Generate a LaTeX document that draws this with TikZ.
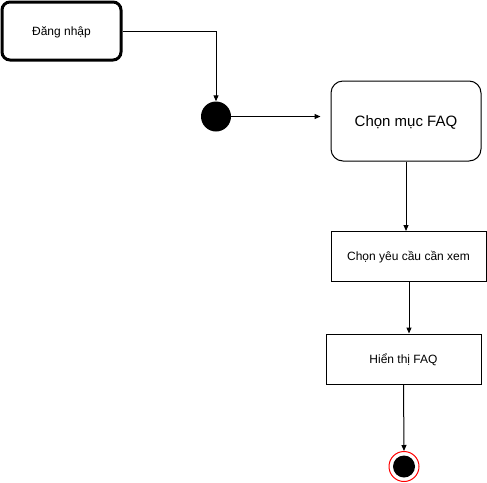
\documentclass[tikz,border=0pt]{standalone}
\usepackage{fontspec}
\setmainfont{Liberation Sans}
\usetikzlibrary{arrows.meta}
\begin{document}
\begin{tikzpicture}[x=1pt,y=-1pt,
  box/.style={draw=black,line width=1pt,fill=white,inner sep=0pt,font=\fontsize{12}{14}\selectfont,align=center,text height=8pt,text depth=0pt},
  arr/.style={-{Triangle[length=6pt,width=5pt]},line width=1pt},
  every node/.style={inner sep=0pt}]
\useasboundingbox (0,0) rectangle (487,482);
\node[box,rounded corners=8pt,line width=3pt,minimum width=119pt,minimum height=58pt] (login) at (61.5,31) {Đăng nhập};
\node[circle,fill=black,minimum size=30pt] (start) at (216,116.5) {};
\node[box,rounded corners=12pt,minimum width=150pt,minimum height=80pt,font=\fontsize{15}{18}\selectfont,text height=10pt] (faq) at (406,121) {Chọn mục FAQ};
\node[box,minimum width=155pt,minimum height=50pt] (req) at (408.5,256.5) {Chọn yêu cầu cần xem};
\node[box,minimum width=155pt,minimum height=50pt] (show) at (403.5,359) {Hiển thị FAQ};
\node[circle,draw=red,line width=1pt,fill=white,minimum size=30pt] (end) at (404,466.5) {};
\node[circle,fill=black,minimum size=22pt] (endin) at (end.center) {};
\coordinate (faqin) at (start.east -| faq.west);
\draw[arr] (login.east) -| (start.north);
\draw[arr,shorten >=10pt] (start.east) -- (faqin);
\draw[arr] (faq.south) -- (faq.south |- req.north);
\draw[arr] (409,281.5) -- (409,333.5);
\draw[arr] (show.south) -- (end.north);
\end{tikzpicture}
\end{document}
